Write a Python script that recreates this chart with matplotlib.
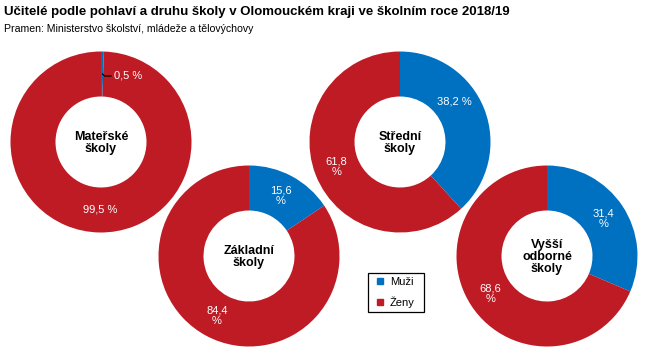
import numpy as np
import matplotlib
matplotlib.use("Agg")
import matplotlib.pyplot as plt
from matplotlib.lines import Line2D

plt.rcParams['font.family'] = ['Liberation Sans', 'DejaVu Sans']

# ---- data ----
categories = ["Mateřské\nškoly", "Základní\nškoly", "Střední\nškoly", "Vyšší\nodborné\nškoly"]
muzi = [0.5, 15.6, 38.2, 31.4]
zeny = [99.5, 84.4, 61.8, 68.6]
series_names = ["Muži", "Ženy"]
title = "Učitelé podle pohlaví a druhu školy v Olomouckém kraji ve školním roce 2018/19"
subtitle = "Pramen: Ministerstvo školství, mládeže a tělovýchovy"

# ---- style / layout ----
W, H = 651, 358
BLUE = "#0070C0"
RED = "#BE1B25"
centers_px = [(101, 142), (249, 256), (400, 142), (547, 256)]
R_OUT, R_IN = 90.5, 45.5

fig = plt.figure(figsize=(W / 100, H / 100), dpi=100)
ax = fig.add_axes([0, 0, 1, 1])

def Y(py):
    return H - py

def fmt(v):
    return f"{v:.1f}".replace(".", ",")

for i, (cat, m, z) in enumerate(zip(categories, muzi, zeny)):
    cx, cy = centers_px[i][0], Y(centers_px[i][1])
    ax.pie([m, z], colors=[BLUE, RED], startangle=90, counterclock=False,
           radius=R_OUT, center=(cx, cy),
           wedgeprops=dict(width=R_OUT - R_IN, edgecolor='none', linewidth=0))
    ax.text(cx, cy - 1, cat, ha='center', va='center', fontsize=9,
            fontweight='bold', color='black', linespacing=1.0)
    # percentage labels at the middle of the ring
    r_lab = (R_OUT + R_IN) / 2
    start = 90.0
    for j, v in enumerate([m, z]):
        span = v / 100 * 360
        mid = np.deg2rad(start - span / 2)
        start -= span
        tx, ty = cx + r_lab * np.cos(mid), cy + r_lab * np.sin(mid)
        txt = f"{fmt(v)}\n%"
        if i == 0 and j == 0:
            # tiny slice: label outside the slice with a leader line
            ax.plot([cx + 1.5, cx + 3.5, cx + 10], [Y(74), Y(76), Y(76)],
                    color='black', lw=0.9)
            ax.text(cx + 13, Y(76), f"{fmt(v)} %", ha='left', va='center',
                    fontsize=8, color='white')
            continue
        if i == 0 and j == 1:
            txt = f"{fmt(v)} %"
        if i == 2 and j == 0:
            ang = np.deg2rad(37)
            tx, ty = cx + r_lab * np.cos(ang), cy + r_lab * np.sin(ang)
            txt = f"{fmt(v)} %"
        ax.text(tx, ty, txt, ha='center', va='center', fontsize=8,
                color='white', linespacing=1.1)

ax.set_xlim(0, W)
ax.set_ylim(0, H)
ax.set_aspect('equal')
ax.axis('off')

fig.text(4 / W, 1 - 12 / H, title, ha='left', va='center', fontsize=9.5,
         fontweight='bold', color='black')
fig.text(4 / W, 1 - 29 / H, subtitle, ha='left', va='center', fontsize=7.6,
         color='black')

handles = [Line2D([], [], marker='s', ls='', color=c, markersize=4)
           for c in [BLUE, RED]]
leg = ax.legend(handles, series_names, loc='upper left', mode='expand',
                bbox_to_anchor=(368 / W, 1 - 273 / H, 56 / W, 0.001),
                borderaxespad=0,
                frameon=True, fancybox=False, framealpha=1, edgecolor='black',
                fontsize=8, handlelength=1.4, handletextpad=0.15,
                labelspacing=0.85, borderpad=0.4)
leg.get_frame().set_linewidth(0.9)

fig.savefig("out.png", dpi=100)
